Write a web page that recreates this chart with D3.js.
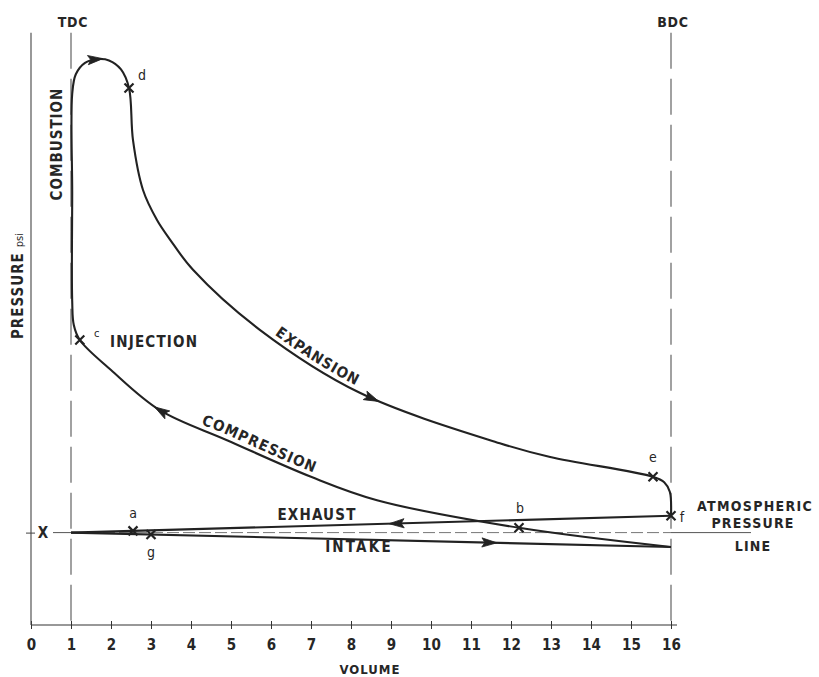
<!DOCTYPE html>
<html>
<head>
<meta charset="utf-8">
<script src="https://cdn.jsdelivr.net/npm/d3@7"></script>
<style>
  html, body { margin: 0; padding: 0; background: #fff; }
  svg { display: block; }
  text { font-family: "DejaVu Sans Condensed", "DejaVu Sans", sans-serif; font-stretch: condensed; fill: #262626; }
  .lbl { font-weight: bold; }
</style>
</head>
<body>
<svg id="chart" width="819" height="677"></svg>
<script>
// Diesel indicator diagram: pressure against cylinder volume
const atmosphericPressure = 15.4;

// Compression stroke, from bottom dead centre up to injection (c)
const compressionV = [16, 12.2, 8.65, 7.0, 4.9, 3.22, 2.0, 1.22];
const compressionP = [13.0, 16.2, 20.8, 24.7, 30.8, 35.8, 42.5, 47.5];

// Combustion, from injection (c) round the top to cut-off (d)
const combustionV = [1.22, 1.07, 1.03, 1.03, 1.03, 1.12, 1.35, 1.65, 1.95, 2.25, 2.45];
const combustionP = [47.5, 50.0, 54.0, 72.0, 88.5, 91.8, 93.7, 94.3, 94.1, 92.6, 89.5];

// Expansion stroke, from d down to exhaust valve opening (e)
const expansionV = [2.45, 2.55, 2.8, 3.15, 3.48, 4.05, 5.72, 8.22, 11.72, 12.98, 15.55];
const expansionP = [89.5, 80.8, 72.5, 67.5, 64.2, 59.2, 49.2, 38.7, 30.3, 28.0, 24.7];

// Blow-down from e to f at bottom dead centre
const blowdownV = [15.55, 15.83, 15.97, 16.0];
const blowdownP = [24.7, 23.8, 22.2, 18.2];

// Exhaust stroke (f back to TDC) and intake stroke (TDC out to BDC)
const exhaustV = [16, 1.0];
const exhaustP = [18.2, 15.4];
const intakeV = [1.0, 16];
const intakeP = [15.4, 13.0];

// Lettered points on the cycle
const pointNames = ["a", "b", "c", "d", "e", "f", "g"];
const pointV = [2.55, 12.2, 1.22, 2.45, 15.55, 16.0, 3.0];
const pointP = [15.69, 16.2, 47.5, 89.5, 24.7, 18.2, 15.08];

// Flow-direction arrows along each process
const arrowSegments = ["power", "power", "compression", "exhaust", "intake"];
const arrowV = [1.65, 8.55, 3.22, 9.1, 11.5];
const arrowP = [94.3, 37.5, 35.8, 16.9, 13.7];

// Volume axis ticks
const volumeTicks = d3.range(0, 17);

const svg = d3.select("#chart");
const ink = "#222";

const x = d3.scaleLinear().domain([0, 16]).range([31, 671]);
const y = d3.scaleLinear().domain([0, 100]).range([625, 25]);
const yTop = 98.7;

const zip = (vs, ps) => vs.map((v, i) => [v, ps[i]]);

// ---- axes ----
const xAxis = d3.axisBottom(x).tickValues(volumeTicks).tickFormat(d3.format("d"))
  .tickSizeInner(4).tickSizeOuter(0).tickPadding(10);
const gx = svg.append("g").attr("transform", `translate(0,${y(0)})`).call(xAxis);
gx.select(".domain").attr("d", `M${x(0)},0H${x(16) + 6}`).attr("stroke", "#333").attr("stroke-width", 1.2);
gx.selectAll(".tick line").attr("y1", -4).attr("y2", 4).attr("stroke", "#333");
gx.selectAll(".tick text").attr("font-size", 15).attr("fill", "#262626").attr("class", "lbl")
  .style("font-family", '"DejaVu Sans Condensed","DejaVu Sans",sans-serif');

const yAxis = d3.axisLeft(y).tickValues([atmosphericPressure]).tickFormat("").tickSizeInner(5).tickSizeOuter(0);
const gy = svg.append("g").attr("transform", `translate(${x(0)},0)`).call(yAxis);
gy.select(".domain").attr("d", `M0,${y(yTop)}V${y(0)}`).attr("stroke", "#444").attr("stroke-width", 1.1);
gy.selectAll(".tick line").attr("x1", -5).attr("x2", 4).attr("stroke", "#444");

// ---- TDC / BDC reference lines ----
[[1, "TDC"], [16, "BDC"]].forEach(([v, name]) => {
  svg.append("line")
    .attr("x1", x(v)).attr("x2", x(v)).attr("y1", y(yTop)).attr("y2", y(0))
    .attr("stroke", "#555").attr("stroke-width", 1.1).attr("stroke-dasharray", "36,10");
  svg.append("text").attr("class", "lbl").attr("x", x(v) + 2).attr("y", 27).attr("text-anchor", "middle")
    .attr("font-size", 14).attr("letter-spacing", 0.8).text(name);
});

// ---- atmospheric pressure line ----
svg.append("line")
  .attr("x1", x(0) + 22).attr("x2", x(1)).attr("y1", y(atmosphericPressure)).attr("y2", y(atmosphericPressure))
  .attr("stroke", "#555").attr("stroke-width", 1);
svg.append("line")
  .attr("x1", x(1)).attr("x2", x(16)).attr("y1", y(atmosphericPressure)).attr("y2", y(atmosphericPressure))
  .attr("stroke", "#777").attr("stroke-width", 1).attr("stroke-dasharray", "12,4");
svg.append("line")
  .attr("x1", x(16)).attr("x2", x(16) + 80).attr("y1", y(atmosphericPressure)).attr("y2", y(atmosphericPressure))
  .attr("stroke", "#555").attr("stroke-width", 1);
svg.append("text").attr("class", "lbl").attr("x", x(0) + 12).attr("y", y(atmosphericPressure) + 5.5)
  .attr("text-anchor", "middle").attr("font-size", 15).text("X");

// ---- cycle curves ----
const curveLine = d3.line().x(d => x(d[0])).y(d => y(d[1])).curve(d3.curveCatmullRom.alpha(0.5));
const straight = d3.line().x(d => x(d[0])).y(d => y(d[1]));

const powerPts = zip(compressionV, compressionP)
  .concat(zip(combustionV, combustionP).slice(1))
  .concat(zip(expansionV, expansionP).slice(1))
  .concat(zip(blowdownV, blowdownP).slice(1));

const paths = {};
paths.power = svg.append("path").attr("d", curveLine(powerPts))
  .attr("fill", "none").attr("stroke", ink).attr("stroke-width", 2.1).attr("stroke-linejoin", "round");
paths.compression = paths.power;
paths.exhaust = svg.append("path").attr("d", straight(zip(exhaustV, exhaustP)))
  .attr("fill", "none").attr("stroke", ink).attr("stroke-width", 2.1);
paths.intake = svg.append("path").attr("d", straight(zip(intakeV, intakeP)))
  .attr("fill", "none").attr("stroke", ink).attr("stroke-width", 2.1);

// ---- arrowheads oriented along the path ----
function arrowOn(pathSel, tx, ty) {
  const node = pathSel.node();
  const len = node.getTotalLength();
  let best = 0, bestD = Infinity;
  for (let l = 0; l <= len; l += 0.5) {
    const p = node.getPointAtLength(l);
    const d = (p.x - tx) ** 2 + (p.y - ty) ** 2;
    if (d < bestD) { bestD = d; best = l; }
  }
  const p0 = node.getPointAtLength(Math.max(0, best - 2));
  const p1 = node.getPointAtLength(Math.min(len, best + 2));
  const pm = node.getPointAtLength(best);
  return { x: pm.x, y: pm.y, angle: Math.atan2(p1.y - p0.y, p1.x - p0.x) * 180 / Math.PI };
}
arrowSegments.forEach((seg, i) => {
  const a = arrowOn(paths[seg], x(arrowV[i]), y(arrowP[i]));
  svg.append("path")
    .attr("d", "M6,0 L-9,-4.6 L-6,0 L-9,4.6 Z")
    .attr("transform", `translate(${a.x},${a.y}) rotate(${a.angle})`)
    .attr("fill", ink).attr("stroke", ink).attr("stroke-width", 0.8);
});

// ---- lettered points ----
const labelOffset = { a: [0, -13], b: [1, -15], c: [17, -3], d: [13, -8], e: [0, -15], f: [11, 6], g: [0, 22] };
pointNames.forEach((n, i) => {
  const cx = x(pointV[i]), cy = y(pointP[i]);
  svg.append("path")
    .attr("d", "M-4.5,-4.5L4.5,4.5M-4.5,4.5L4.5,-4.5")
    .attr("transform", `translate(${cx},${cy})`)
    .attr("stroke", ink).attr("stroke-width", 2.2);
  const [dx, dy] = labelOffset[n];
  svg.append("text").attr("x", cx + dx).attr("y", cy + dy).attr("text-anchor", "middle")
    .attr("font-size", n === "c" ? 11 : 14).text(n);
});

// ---- process labels ----
const bigFont = 15;
svg.append("text").attr("class", "lbl").attr("x", 110).attr("y", y(47.5) + 7)
  .attr("font-size", bigFont).attr("letter-spacing", 1.2).text("INJECTION");
svg.append("text").attr("class", "lbl").attr("transform", `translate(62,144) rotate(-90)`).attr("text-anchor", "middle")
  .attr("font-size", bigFont).attr("letter-spacing", 1).text("COMBUSTION");
svg.append("text").attr("class", "lbl").attr("x", 317).attr("y", y(exhaustP[1] + 1.8) - 2).attr("text-anchor", "middle")
  .attr("font-size", bigFont).attr("letter-spacing", 1.2).text("EXHAUST");
svg.append("text").attr("class", "lbl").attr("x", 359).attr("y", y(intakeP[1]) + 5).attr("text-anchor", "middle")
  .attr("font-size", bigFont).attr("letter-spacing", 2.2).text("INTAKE");

const atmX = 755;
const atmFont = 14;
svg.append("text").attr("class", "lbl").attr("x", atmX).attr("y", y(atmosphericPressure) - 22).attr("text-anchor", "middle")
  .attr("font-size", atmFont).attr("letter-spacing", 1.3).text("ATMOSPHERIC");
svg.append("text").attr("class", "lbl").attr("x", atmX - 2).attr("y", y(atmosphericPressure) - 5).attr("text-anchor", "middle")
  .attr("font-size", atmFont).attr("letter-spacing", 1.2).text("PRESSURE");
svg.append("text").attr("class", "lbl").attr("x", atmX - 2).attr("y", y(atmosphericPressure) + 18).attr("text-anchor", "middle")
  .attr("font-size", atmFont).attr("letter-spacing", 1.2).text("LINE");

// Axis titles
const yTitle = svg.append("text").attr("transform", `translate(23,286) rotate(-90)`).attr("text-anchor", "middle");
yTitle.append("tspan").attr("class", "lbl").attr("font-size", bigFont).attr("letter-spacing", 1).text("PRESSURE");
yTitle.append("tspan").attr("font-size", 11).attr("dx", 5).text("psi");
svg.append("text").attr("class", "lbl").attr("x", 370).attr("y", 674).attr("text-anchor", "middle")
  .attr("font-size", 13).attr("letter-spacing", 1).text("VOLUME");

// Labels that follow the expansion and compression curves
const defs = svg.append("defs");
defs.append("path").attr("id", "expansion-guide").attr("d", curveLine(zip(expansionV, expansionP)));
defs.append("path").attr("id", "compression-guide")
  .attr("d", curveLine(zip(compressionV, compressionP).slice().reverse()));

function offsetAtX(id, tx) {
  const node = document.getElementById(id);
  const len = node.getTotalLength();
  let lo = 0, hi = len;
  for (let k = 0; k < 40; k++) {
    const mid = (lo + hi) / 2;
    if (node.getPointAtLength(mid).x < tx) lo = mid; else hi = mid;
  }
  return lo;
}
svg.append("text").attr("class", "lbl").attr("font-size", bigFont).attr("letter-spacing", 1.1).attr("dy", -5)
  .append("textPath").attr("href", "#expansion-guide").attr("text-anchor", "middle")
  .attr("startOffset", offsetAtX("expansion-guide", 312)).text("EXPANSION");
svg.append("text").attr("class", "lbl").attr("font-size", bigFont).attr("letter-spacing", 1.1).attr("dy", -5)
  .append("textPath").attr("href", "#compression-guide").attr("text-anchor", "middle")
  .attr("startOffset", offsetAtX("compression-guide", 256)).text("COMPRESSION");
</script>
</body>
</html>
